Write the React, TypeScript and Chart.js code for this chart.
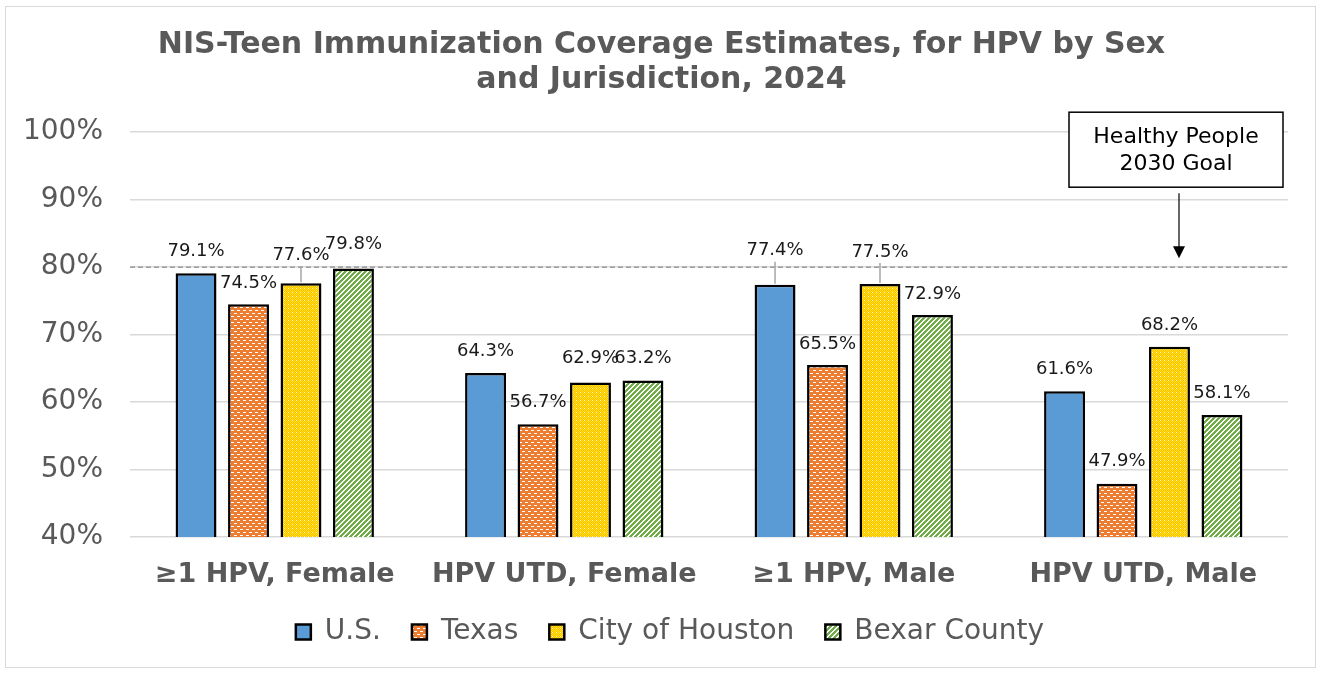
import { useEffect, useRef } from 'react';
import { Chart, registerables } from 'chart.js';

Chart.register(...registerables);

const TITLE = ['NIS-Teen Immunization Coverage Estimates, for HPV by Sex', 'and Jurisdiction, 2024'];
const CATEGORIES = ['≥1 HPV, Female', 'HPV UTD, Female', '≥1 HPV, Male', 'HPV UTD, Male'];
const SERIES_NAMES = ['U.S.', 'Texas', 'City of Houston', 'Bexar County'];
const US = [79.1, 64.3, 77.4, 61.6];
const TEXAS = [74.5, 56.7, 65.5, 47.9];
const HOUSTON = [77.6, 62.9, 77.5, 68.2];
const BEXAR = [79.8, 63.2, 72.9, 58.1];
const Y_MIN = 40;
const Y_MAX = 100;
const Y_STEP = 10;
const GOAL = 80;
const GOAL_TEXT = ['Healthy People', '2030 Goal'];

// how far each data label sits above its bar (px), hand-placed in the original
const LABEL_LIFT = [
  [22, 22, 34, 22],
  [21, 22, 21, 22],
  [28, 24, 32, 21],
  [24, 22, 21, 22],
];
// [series, category] labels that have a leader line down to the bar
const LEADERS = [[0, 2], [2, 0], [2, 2]];

const FONT = 'DejaVu Sans, Verdana, sans-serif';
const GREY_TEXT = '#595959';

function makePattern(w: number, h: number, paint: (c: CanvasRenderingContext2D) => void) {
  const c = document.createElement('canvas');
  c.width = w;
  c.height = h;
  const g = c.getContext('2d')!;
  paint(g);
  return g.createPattern(c, 'repeat')!;
}

function texasPattern() {
  return makePattern(6, 6, (g) => {
    g.fillStyle = '#ED7D31';
    g.fillRect(0, 0, 6, 6);
    g.fillStyle = '#ffffff';
    g.fillRect(0, 1, 3, 1);
    g.fillRect(3, 4, 3, 1);
  });
}

function houstonPattern() {
  return makePattern(4, 4, (g) => {
    g.fillStyle = '#FFC000';
    g.fillRect(0, 0, 4, 4);
    g.fillStyle = '#FFE21A';
    for (let x = 0; x < 4; x++) {
      for (let y = 0; y < 4; y++) {
        if ((x + y) % 2 === 0) g.fillRect(x, y, 1, 1);
      }
    }
    g.fillStyle = '#FFF6C0';
    g.fillRect(0, 0, 1, 1);
  });
}

function bexarPattern() {
  return makePattern(5, 5, (g) => {
    g.fillStyle = '#ffffff';
    g.fillRect(0, 0, 5, 5);
    g.fillStyle = '#70AD47';
    for (let x = 0; x < 5; x++) {
      for (let y = 0; y < 5; y++) {
        if ((x + y) % 5 < 3) g.fillRect(x, y, 1, 1);
      }
    }
  });
}

const goalLine = {
  id: 'goalLine',
  afterLayout(chart: any) {
    // nudge title and legend to where the original puts them
    if (chart.legend) {
      chart.legend.left += 26;
      chart.legend.right += 26;
      chart.legend.top -= 19;
      chart.legend.bottom -= 19;
    }
    if (chart.titleBlock) {
      chart.titleBlock.left += 17.5;
      chart.titleBlock.right += 17.5;
    }
  },
  beforeDatasetsDraw(chart: Chart) {
    const { ctx, chartArea, scales } = chart;
    const y = scales.y.getPixelForValue(GOAL);
    ctx.save();
    ctx.strokeStyle = '#8c8c8c';
    ctx.lineWidth = 1.2;
    ctx.setLineDash([5, 3]);
    ctx.beginPath();
    ctx.moveTo(chartArea.left, y);
    ctx.lineTo(chartArea.right, y);
    ctx.stroke();
    ctx.restore();
  },
};

const labelsAndNote = {
  id: 'labelsAndNote',
  afterDatasetsDraw(chart: Chart) {
    const { ctx, chartArea, scales } = chart;
    ctx.save();
    ctx.font = `18px ${FONT}`;
    ctx.fillStyle = '#1a1a1a';
    ctx.textAlign = 'center';
    ctx.textBaseline = 'middle';
    chart.data.datasets.forEach((ds, si) => {
      const meta = chart.getDatasetMeta(si);
      meta.data.forEach((bar: any, ci) => {
        const v = ds.data[ci] as number;
        const ly = bar.y - LABEL_LIFT[si][ci];
        ctx.fillText(`${v.toFixed(1)}%`, bar.x, ly);
        if (LEADERS.some(([s, c]) => s === si && c === ci)) {
          ctx.strokeStyle = '#a6a6a6';
          ctx.lineWidth = 1.5;
          ctx.beginPath();
          ctx.moveTo(bar.x, ly + 11);
          ctx.lineTo(bar.x, bar.y - 1);
          ctx.stroke();
        }
      });
    });

    // goal callout
    const goalY = scales.y.getPixelForValue(GOAL);
    const right = chartArea.right - 5;
    const left = right - 214;
    const top = chartArea.top - 20;
    const bottom = top + 75;
    ctx.fillStyle = '#ffffff';
    ctx.fillRect(left, top, right - left, bottom - top);
    ctx.strokeStyle = '#000000';
    ctx.lineWidth = 1.5;
    ctx.strokeRect(left, top, right - left, bottom - top);
    ctx.fillStyle = '#000000';
    ctx.font = `22px ${FONT}`;
    GOAL_TEXT.forEach((t, i) => ctx.fillText(t, (left + right) / 2, top + 25 + i * 27));

    const ax = (left + right) / 2 + 3;
    const tip = goalY - 9;
    ctx.lineWidth = 1.2;
    ctx.beginPath();
    ctx.moveTo(ax, bottom + 6);
    ctx.lineTo(ax, tip - 10);
    ctx.stroke();
    ctx.beginPath();
    ctx.moveTo(ax - 6, tip - 12);
    ctx.lineTo(ax + 6, tip - 12);
    ctx.lineTo(ax, tip);
    ctx.closePath();
    ctx.fill();
    ctx.restore();
  },
};

export default function App() {
  const ref = useRef<HTMLCanvasElement>(null);

  useEffect(() => {
    if (!ref.current) return;
    const fills = ['#5B9BD5', texasPattern(), houstonPattern(), bexarPattern()];
    const series = [US, TEXAS, HOUSTON, BEXAR];

    const chart = new Chart(ref.current, {
      type: 'bar',
      data: {
        labels: CATEGORIES,
        datasets: series.map((data, i) => ({
          label: SERIES_NAMES[i],
          data,
          backgroundColor: fills[i] as any,
          borderColor: '#000000',
          borderWidth: 2.5,
          borderSkipped: 'bottom',
          categoryPercentage: 0.725,
          barPercentage: 0.78,
        })),
      },
      options: {
        responsive: true,
        maintainAspectRatio: false,
        animation: false,
        layout: { padding: { left: 0, right: 35, top: 0, bottom: 0 } },
        plugins: {
          title: {
            display: true,
            text: TITLE,
            color: GREY_TEXT,
            font: { family: FONT, size: 30, weight: 'bold', lineHeight: 1.17 },
            padding: { top: 27.5, bottom: 34.5 },
          },
          legend: {
            position: 'bottom',
            labels: {
              color: GREY_TEXT,
              font: { family: FONT, size: 28 },
              boxWidth: 15,
              boxHeight: 15,
              padding: 31,
            },
          },
          tooltip: { enabled: false },
        },
        scales: {
          x: {
            grid: { display: false },
            border: { display: false },
            ticks: {
              color: GREY_TEXT,
              font: { family: FONT, size: 27, weight: 'bold' },
              padding: 14,
              maxRotation: 0,
            },
            afterFit: (s: any) => { s.height = 69; },
          },
          y: {
            min: Y_MIN,
            max: Y_MAX,
            grid: { color: '#d9d9d9', lineWidth: 1.5, drawTicks: false },
            border: { display: false },
            ticks: {
              stepSize: Y_STEP,
              color: GREY_TEXT,
              font: { family: FONT, size: 28 },
              padding: 27,
              callback: (v) => `${v}%`,
            },
            afterFit: (s: any) => { s.width = 130; },
          },
        },
      },
      plugins: [goalLine, labelsAndNote],
    });

    return () => { chart.destroy(); };
  }, []);

  return (
    <div style={{ position: 'absolute', left: 0, top: 0, width: 1323, height: 675, background: '#fff' }}>
      <div
        style={{
          position: 'absolute', left: 5, top: 6, width: 1309, height: 660,
          border: '1.5px solid #d9d9d9', pointerEvents: 'none',
        }}
      />
      <canvas ref={ref} style={{ width: '100%', height: '100%' }} />
    </div>
  );
}
